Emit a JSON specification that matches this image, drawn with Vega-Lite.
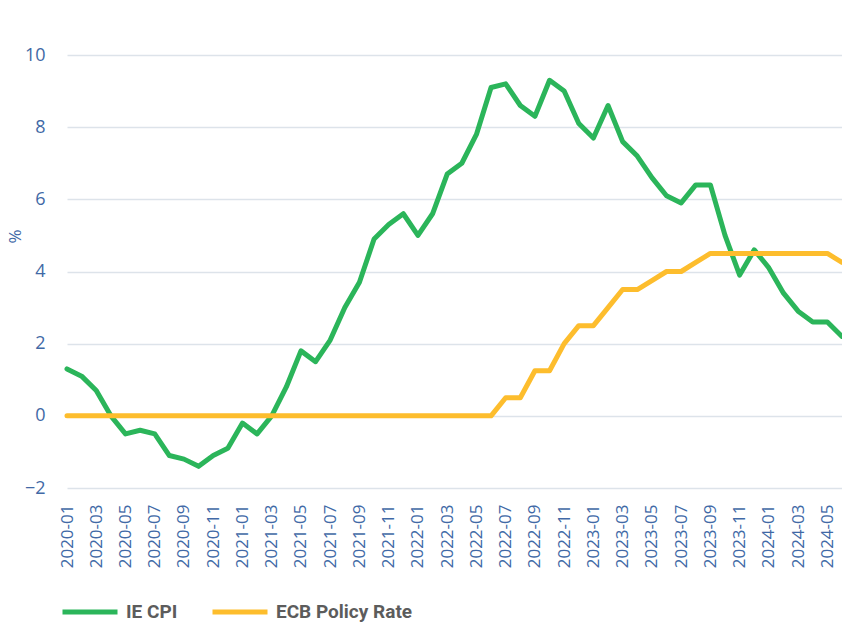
{
  "$schema": "https://vega.github.io/schema/vega-lite/v6.json",
  "width": 782,
  "height": 433,
  "autosize": {"type": "none"},
  "padding": {"left": 60, "top": 55, "right": 0, "bottom": 136},
  "background": "white",
  "config": {"font": "Open Sans", "view": {"stroke": null}},
  "datasets": {
    "cpi": [
      {"month":"2020-01","value":1.3},{"month":"2020-02","value":1.1},{"month":"2020-03","value":0.7},{"month":"2020-04","value":0.0},{"month":"2020-05","value":-0.5},{"month":"2020-06","value":-0.4},{"month":"2020-07","value":-0.5},{"month":"2020-08","value":-1.1},{"month":"2020-09","value":-1.2},{"month":"2020-10","value":-1.4},{"month":"2020-11","value":-1.1},{"month":"2020-12","value":-0.9},
      {"month":"2021-01","value":-0.2},{"month":"2021-02","value":-0.5},{"month":"2021-03","value":0.0},{"month":"2021-04","value":0.8},{"month":"2021-05","value":1.8},{"month":"2021-06","value":1.5},{"month":"2021-07","value":2.1},{"month":"2021-08","value":3.0},{"month":"2021-09","value":3.7},{"month":"2021-10","value":4.9},{"month":"2021-11","value":5.3},{"month":"2021-12","value":5.6},
      {"month":"2022-01","value":5.0},{"month":"2022-02","value":5.6},{"month":"2022-03","value":6.7},{"month":"2022-04","value":7.0},{"month":"2022-05","value":7.8},{"month":"2022-06","value":9.1},{"month":"2022-07","value":9.2},{"month":"2022-08","value":8.6},{"month":"2022-09","value":8.3},{"month":"2022-10","value":9.3},{"month":"2022-11","value":9.0},{"month":"2022-12","value":8.1},
      {"month":"2023-01","value":7.7},{"month":"2023-02","value":8.6},{"month":"2023-03","value":7.6},{"month":"2023-04","value":7.2},{"month":"2023-05","value":6.6},{"month":"2023-06","value":6.1},{"month":"2023-07","value":5.9},{"month":"2023-08","value":6.4},{"month":"2023-09","value":6.4},{"month":"2023-10","value":5.0},{"month":"2023-11","value":3.9},{"month":"2023-12","value":4.6},
      {"month":"2024-01","value":4.1},{"month":"2024-02","value":3.4},{"month":"2024-03","value":2.9},{"month":"2024-04","value":2.6},{"month":"2024-05","value":2.6},{"month":"2024-06","value":2.2}
    ],
    "ecb": [
      {"month":"2020-01","value":0},{"month":"2020-02","value":0},{"month":"2020-03","value":0},{"month":"2020-04","value":0},{"month":"2020-05","value":0},{"month":"2020-06","value":0},{"month":"2020-07","value":0},{"month":"2020-08","value":0},{"month":"2020-09","value":0},{"month":"2020-10","value":0},{"month":"2020-11","value":0},{"month":"2020-12","value":0},
      {"month":"2021-01","value":0},{"month":"2021-02","value":0},{"month":"2021-03","value":0},{"month":"2021-04","value":0},{"month":"2021-05","value":0},{"month":"2021-06","value":0},{"month":"2021-07","value":0},{"month":"2021-08","value":0},{"month":"2021-09","value":0},{"month":"2021-10","value":0},{"month":"2021-11","value":0},{"month":"2021-12","value":0},
      {"month":"2022-01","value":0},{"month":"2022-02","value":0},{"month":"2022-03","value":0},{"month":"2022-04","value":0},{"month":"2022-05","value":0},{"month":"2022-06","value":0},{"month":"2022-07","value":0.5},{"month":"2022-08","value":0.5},{"month":"2022-09","value":1.25},{"month":"2022-10","value":1.25},{"month":"2022-11","value":2.0},{"month":"2022-12","value":2.5},
      {"month":"2023-01","value":2.5},{"month":"2023-02","value":3.0},{"month":"2023-03","value":3.5},{"month":"2023-04","value":3.5},{"month":"2023-05","value":3.75},{"month":"2023-06","value":4.0},{"month":"2023-07","value":4.0},{"month":"2023-08","value":4.25},{"month":"2023-09","value":4.5},{"month":"2023-10","value":4.5},{"month":"2023-11","value":4.5},{"month":"2023-12","value":4.5},
      {"month":"2024-01","value":4.5},{"month":"2024-02","value":4.5},{"month":"2024-03","value":4.5},{"month":"2024-04","value":4.5},{"month":"2024-05","value":4.5},{"month":"2024-06","value":4.25}
    ]
  },
  "encoding": {
    "x": {
      "field": "month", "type": "ordinal", "sort": null,
      "scale": {"type": "point", "range": [7, 782], "padding": 0},
      "axis": {
        "title": null, "labelAngle": -90, "labelAlign": "right", "labelBaseline": "middle",
        "labelPadding": 16, "ticks": false, "domain": false, "grid": false,
        "labelFontSize": 17, "labelColor": "#4169a6",
        "values": ["2020-01","2020-03","2020-05","2020-07","2020-09","2020-11","2021-01","2021-03","2021-05","2021-07","2021-09","2021-11","2022-01","2022-03","2022-05","2022-07","2022-09","2022-11","2023-01","2023-03","2023-05","2023-07","2023-09","2023-11","2024-01","2024-03","2024-05"]
      }
    },
    "y": {
      "field": "value", "type": "quantitative",
      "scale": {"domain": [-2, 10], "nice": false, "zero": false},
      "axis": {
        "values": [-2, 0, 2, 4, 6, 8, 10], "ticks": false, "domain": false,
        "labelPadding": 15, "labelFontSize": 18, "labelColor": "#4169a6",
        "gridColor": "#dde3ea", "gridWidth": 1.5,
        "title": "%", "titleFontSize": 17, "titleFontWeight": "normal", "titleColor": "#4169a6",
        "titleX": -45, "titleY": 181, "titleBaseline": "middle"
      }
    },
    "color": {
      "field": "series", "type": "nominal",
      "scale": {"domain": ["IE CPI", "ECB Policy Rate"], "range": ["#2bb55a", "#fdbd2d"]},
      "legend": {
        "title": null, "orient": "none", "direction": "horizontal", "legendX": 0, "legendY": 527,
        "symbolType": "stroke", "symbolSize": 3025, "symbolStrokeWidth": 5,
        "labelFont": "Roboto", "labelFontSize": 19, "labelFontWeight": "bold", "labelColor": "#5c5c5c",
        "labelOffset": 6, "columnPadding": 24
      }
    }
  },
  "layer": [
    {
      "data": {"name": "cpi"},
      "transform": [{"calculate": "'IE CPI'", "as": "series"}],
      "mark": {"type": "line", "strokeWidth": 5, "strokeJoin": "round", "strokeCap": "round", "clip": false}
    },
    {
      "data": {"name": "ecb"},
      "transform": [{"calculate": "'ECB Policy Rate'", "as": "series"}],
      "mark": {"type": "line", "strokeWidth": 5, "strokeJoin": "round", "strokeCap": "round", "clip": false}
    }
  ]
}
